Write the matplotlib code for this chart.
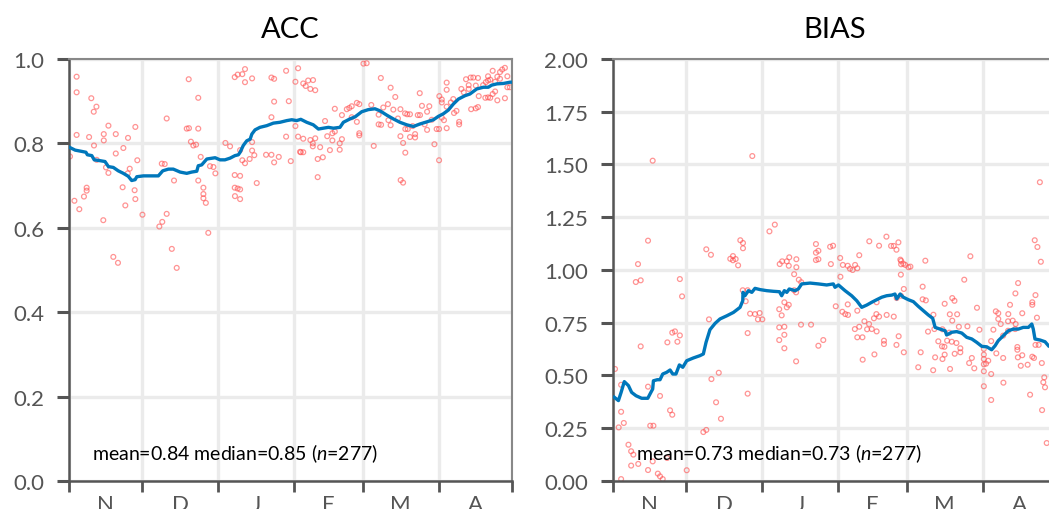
import matplotlib
matplotlib.use("Agg")
import matplotlib.pyplot as plt

plt.rcParams['font.family'] = ['Lato', 'DejaVu Sans']
plt.rcParams['mathtext.fontset'] = 'custom'
plt.rcParams['mathtext.rm'] = 'Lato'
plt.rcParams['mathtext.it'] = 'Lato:italic'

# x axis: days since 1 Nov
months = ['N', 'D', 'J', 'F', 'M', 'A']
month_starts = [0, 30, 61, 92, 120, 151, 181]

acc_ticks = [0.0, 0.2, 0.4, 0.6, 0.8, 1.0]
bias_ticks = [0.0, 0.25, 0.5, 0.75, 1.0, 1.25, 1.5, 1.75, 2.0]

acc_stats = 'mean=0.84 median=0.85 ($n$=277)'
bias_stats = 'mean=0.73 median=0.73 ($n$=277)'

# (day, ACC) per run
acc_points = [
    (3.1, 0.958), (3.1, 0.921), (9.1, 0.907), (11.2, 0.887), (10.1, 0.875), (3.1, 0.820),
    (10.2, 0.795), (8.2, 0.815), (14.2, 0.822), (14.2, 0.807), (16.1, 0.842), (19.1, 0.822),
    (24.1, 0.813), (27.1, 0.839), (22.2, 0.789), (19.1, 0.776), (11.3, 0.761), (15.1, 0.743),
    (16.1, 0.730), (24.8, 0.740), (27.9, 0.760), (24.0, 0.729), (0.4, 0.769), (2.2, 0.664),
    (4.2, 0.644), (6.1, 0.674), (7.2, 0.695), (7.2, 0.688), (14.0, 0.618), (21.9, 0.696),
    (23.0, 0.653), (26.8, 0.689), (27.1, 0.668), (30.0, 0.631), (18.1, 0.531), (20.0, 0.517),
    (39.9, 0.859), (48.9, 0.952), (52.8, 0.908), (48.1, 0.835), (49.0, 0.836), (52.8, 0.835),
    (49.8, 0.804), (50.8, 0.795), (51.9, 0.797), (53.8, 0.768), (37.9, 0.752), (39.1, 0.751),
    (42.9, 0.712), (52.8, 0.712), (54.9, 0.695), (54.9, 0.680), (54.9, 0.670), (55.9, 0.659),
    (57.6, 0.746), (59.0, 0.744), (59.8, 0.729), (39.9, 0.633), (38.1, 0.614), (36.9, 0.603),
    (56.9, 0.588), (42.0, 0.550), (44.0, 0.505),
    (67.7, 0.957), (68.9, 0.963), (70.8, 0.964), (71.9, 0.976), (71.9, 0.945), (74.8, 0.954),
    (63.9, 0.801), (65.8, 0.793), (69.9, 0.784), (70.8, 0.760), (71.9, 0.753), (73.8, 0.763),
    (74.8, 0.803), (74.8, 0.783), (75.7, 0.772), (76.7, 0.706), (67.7, 0.725), (69.9, 0.723),
    (67.7, 0.695), (68.9, 0.693), (69.9, 0.691), (67.8, 0.675), (69.9, 0.668),
    (82.7, 0.956), (83.8, 0.953), (83.8, 0.899), (89.8, 0.900), (88.7, 0.972), (82.7, 0.862),
    (80.5, 0.773), (82.7, 0.773), (85.7, 0.768), (83.8, 0.755), (88.7, 0.816), (92.5, 0.841),
    (90.6, 0.758), (92.5, 0.946), (93.6, 0.978), (93.6, 0.816), (94.4, 0.780),
    (95.7, 0.942), (96.7, 0.936), (97.7, 0.949), (99.7, 0.950), (98.6, 0.929), (100.6, 0.926),
    (95.7, 0.811), (94.7, 0.779), (95.7, 0.779), (98.6, 0.808), (99.6, 0.800), (99.6, 0.793),
    (100.6, 0.812), (101.6, 0.763), (103.7, 0.767), (101.6, 0.720), (102.6, 0.791), (104.6, 0.853),
    (106.6, 0.784), (105.5, 0.817), (107.6, 0.824), (107.6, 0.807), (108.6, 0.882), (108.6, 0.828),
    (110.6, 0.800), (110.6, 0.785), (111.5, 0.810), (111.5, 0.867), (113.5, 0.881), (114.5, 0.884),
    (115.5, 0.888), (115.5, 0.862), (117.6, 0.896), (118.6, 0.893), (117.6, 0.851), (118.6, 0.824),
    (118.6, 0.819),
    (120.3, 0.989), (121.6, 0.990), (123.5, 0.891), (124.5, 0.794), (127.4, 0.955), (126.5, 0.868),
    (126.5, 0.845), (127.5, 0.844), (128.4, 0.885), (130.3, 0.893), (131.4, 0.932), (130.5, 0.855),
    (131.4, 0.843), (132.5, 0.880), (133.3, 0.910), (134.4, 0.859), (135.4, 0.881), (135.4, 0.817),
    (136.5, 0.801), (137.4, 0.778), (135.5, 0.713), (136.5, 0.707), (137.3, 0.871), (138.2, 0.869),
    (139.3, 0.869), (137.4, 0.834), (138.4, 0.834), (139.3, 0.815), (140.4, 0.841), (141.4, 0.822),
    (141.4, 0.814), (143.3, 0.919), (142.5, 0.867), (143.4, 0.867), (144.2, 0.889), (145.3, 0.845),
    (146.3, 0.875), (146.3, 0.832), (147.2, 0.888), (148.2, 0.856), (149.3, 0.798), (150.2, 0.834),
    (151.2, 0.834), (151.2, 0.760),
    (151.3, 0.912), (152.3, 0.904), (152.3, 0.897), (153.2, 0.855), (152.3, 0.861), (154.3, 0.944),
    (154.3, 0.927), (154.3, 0.887), (154.3, 0.836), (156.0, 0.897), (157.0, 0.905), (157.3, 0.872),
    (158.3, 0.877), (159.4, 0.851), (159.4, 0.845), (160.3, 0.929), (161.3, 0.921), (162.2, 0.952),
    (163.3, 0.938), (163.3, 0.929), (164.1, 0.956), (164.3, 0.881), (165.2, 0.956), (166.2, 0.937),
    (167.1, 0.955), (166.2, 0.883), (167.1, 0.886), (167.4, 0.912), (169.2, 0.938), (170.1, 0.908),
    (171.2, 0.959), (171.2, 0.909), (172.1, 0.951), (172.1, 0.908), (173.1, 0.972), (173.1, 0.917),
    (174.1, 0.923), (175.0, 0.958), (175.0, 0.902), (176.1, 0.969), (176.1, 0.953), (177.0, 0.975),
    (178.1, 0.979), (178.1, 0.907), (179.1, 0.959), (179.1, 0.933), (180.1, 0.933), (171.2, 0.949),
    (170.3, 0.945), (174.1, 0.946),
]

# running mean of ACC
acc_line = [
    (0.1, 0.791), (2.5, 0.784), (5.2, 0.781), (6.9, 0.779), (7.5, 0.773), (9.3, 0.771),
    (10.3, 0.761), (12.7, 0.759), (14.7, 0.757), (16.1, 0.745), (18.1, 0.743), (20.1, 0.735),
    (22.2, 0.729), (24.2, 0.722), (25.6, 0.712), (27.0, 0.714), (27.7, 0.721), (30.4, 0.723),
    (36.5, 0.723), (38.3, 0.735), (40.6, 0.739), (42.6, 0.739), (45.4, 0.732), (48.1, 0.729),
    (50.1, 0.732), (52.2, 0.734), (52.8, 0.747), (54.2, 0.749), (56.3, 0.763), (59.7, 0.766),
    (61.7, 0.761), (63.7, 0.761), (65.8, 0.765), (67.8, 0.771), (69.2, 0.773), (69.9, 0.779),
    (71.2, 0.795), (72.6, 0.806), (74.0, 0.810), (74.7, 0.822), (76.0, 0.832), (78.0, 0.838),
    (80.8, 0.842), (83.5, 0.848), (86.2, 0.850), (89.0, 0.854), (91.0, 0.856), (93.0, 0.854),
    (94.7, 0.857), (97.1, 0.850), (99.8, 0.844), (101.9, 0.834), (103.9, 0.836), (106.0, 0.838),
    (108.0, 0.836), (110.7, 0.838), (112.1, 0.850), (114.8, 0.858), (116.9, 0.863), (119.6, 0.875),
    (122.3, 0.880), (125.0, 0.882), (127.1, 0.877), (129.8, 0.867), (132.5, 0.858), (135.2, 0.850),
    (138.0, 0.844), (140.7, 0.840), (143.4, 0.846), (146.2, 0.851), (148.9, 0.856), (150.9, 0.864),
    (152.9, 0.870), (155.0, 0.879), (157.0, 0.893), (159.1, 0.905), (161.8, 0.913), (163.8, 0.917),
    (166.6, 0.929), (169.3, 0.933), (171.3, 0.933), (172.7, 0.938), (174.8, 0.941), (177.5, 0.942),
    (180.2, 0.945), (181.1, 0.945),
]

# (day, BIAS) per run
bias_points = [
    (16.2, 1.518), (56.9, 1.540), (14.3, 1.139), (10.2, 1.028), (9.3, 0.943), (11.3, 0.951),
    (27.3, 0.957), (28.2, 0.875), (38.1, 1.098), (40.0, 1.072), (47.9, 1.053), (49.0, 1.066),
    (50.1, 1.052), (49.0, 1.046), (51.1, 1.022), (52.0, 1.141), (53.1, 1.128), (53.1, 1.103),
    (63.9, 1.183), (66.1, 1.215), (68.1, 1.028), (69.1, 1.041), (71.0, 1.041), (72.0, 1.060),
    (71.8, 1.020), (74.9, 1.051), (74.9, 1.013), (74.0, 0.980), (75.9, 0.954), (76.9, 0.942),
    (82.9, 1.123), (82.9, 1.082), (83.9, 1.091), (82.9, 1.047), (83.9, 1.051), (53.0, 0.904),
    (55.0, 0.904), (74.0, 0.904), (74.8, 0.894),
    (0.8, 0.531), (3.3, 0.456), (3.3, 0.328), (2.3, 0.254), (4.4, 0.275), (6.3, 0.172),
    (7.4, 0.141), (8.3, 0.125), (7.4, 0.073), (10.3, 0.081), (3.3, 0.009), (11.3, 0.638),
    (14.3, 0.447), (15.2, 0.262), (16.5, 0.262), (16.2, 0.093), (14.3, 0.052), (19.2, 0.403),
    (18.3, 0.035), (19.2, 0.022), (20.3, 0.009), (22.1, 0.109), (23.3, 0.335), (24.2, 0.314),
    (22.2, 0.657), (24.2, 0.703), (25.3, 0.709), (26.3, 0.660), (27.3, 0.690), (30.1, 0.051),
    (36.9, 0.232), (38.1, 0.242), (39.2, 0.766), (40.2, 0.483), (42.1, 0.373), (43.2, 0.513),
    (44.1, 0.295), (54.2, 0.852), (55.0, 0.701), (55.0, 0.414), (56.0, 0.793), (58.0, 0.791),
    (59.9, 0.796), (61.0, 0.766), (59.2, 0.766),
    (67.9, 0.814), (68.9, 0.785), (67.9, 0.728), (70.0, 0.731), (67.9, 0.668), (70.0, 0.693),
    (70.0, 0.629), (70.0, 0.847), (71.0, 0.823), (71.8, 0.835), (76.8, 0.741), (80.9, 0.741),
    (83.9, 0.641), (85.9, 0.668), (74.8, 0.567), (89.0, 1.028), (93.9, 1.024), (92.9, 0.968),
    (91.0, 0.828), (93.7, 0.802), (94.9, 0.791), (96.0, 0.787), (95.9, 0.837), (98.8, 0.720),
    (100.6, 0.731), (99.8, 0.681), (101.9, 0.681), (102.7, 0.757), (104.6, 0.744), (103.8, 0.719),
    (105.7, 0.720), (107.7, 0.709), (106.6, 0.771), (107.6, 0.791), (108.7, 0.779), (111.8, 0.787),
    (114.7, 0.779), (110.7, 0.665), (110.7, 0.649), (115.8, 0.645), (116.7, 0.686), (118.8, 0.610),
    (102.0, 0.575), (106.8, 0.600), (99.8, 0.807), (107.7, 0.847), (115.9, 0.867), (117.6, 0.878),
    (118.8, 0.910), (117.4, 1.049), (127.6, 1.044), (119.4, 1.024), (121.5, 1.016), (117.6, 0.978),
    (126.5, 0.921), (126.5, 0.861), (127.8, 0.856),
    (130.9, 0.788), (135.5, 0.840), (138.6, 0.867), (139.5, 0.854), (137.6, 0.790), (140.6, 0.790),
    (128.7, 0.708), (131.3, 0.720), (134.6, 0.719), (138.6, 0.760), (137.4, 0.703), (141.3, 0.731),
    (144.8, 0.733), (143.5, 0.954), (148.7, 0.821), (149.7, 0.717), (132.9, 0.662), (134.4, 0.638),
    (135.4, 0.636), (136.5, 0.665), (138.4, 0.660), (140.3, 0.654), (141.9, 0.629), (141.9, 0.610),
    (139.6, 0.603), (135.5, 0.599), (131.6, 0.586), (134.6, 0.578), (137.7, 0.531), (130.8, 0.525),
    (125.7, 0.610), (124.7, 0.539), (146.6, 0.583), (145.5, 0.559), (147.6, 0.534),
    (151.5, 0.626), (151.5, 0.599), (151.5, 0.578), (152.4, 0.556), (151.5, 0.553), (151.5, 0.520),
    (153.3, 0.570), (154.5, 0.663), (154.5, 0.507), (155.4, 0.717), (156.4, 0.804), (157.4, 0.795),
    (157.4, 0.768), (156.6, 0.605), (159.4, 0.583), (158.4, 0.744), (159.4, 0.689), (161.5, 0.791),
    (162.2, 0.835), (161.4, 0.757), (163.3, 0.760), (164.5, 0.744), (165.5, 0.938), (164.4, 0.889),
    (167.2, 0.795), (171.3, 0.847), (171.3, 0.835), (172.6, 0.881), (173.2, 0.774), (161.4, 0.712),
    (164.3, 0.720), (165.2, 0.635), (165.2, 0.622), (167.2, 0.596), (165.4, 0.586), (166.6, 0.546),
    (169.4, 0.551), (171.3, 0.589), (172.0, 0.583), (172.6, 0.645), (173.9, 0.645), (175.2, 0.559),
    (176.2, 0.491), (175.8, 0.468), (176.5, 0.444), (170.4, 0.409), (159.5, 0.466), (151.5, 0.449),
    (154.5, 0.384), (177.2, 0.180), (174.8, 1.039), (174.4, 1.416), (172.3, 1.141), (173.4, 1.109),
    (175.3, 0.336),
    (88.7, 1.110), (89.9, 1.115), (92.8, 1.057), (95.9, 1.020), (96.8, 1.006), (97.9, 1.000),
    (98.9, 1.024), (99.8, 1.008), (100.6, 1.070), (104.7, 1.136), (108.7, 1.115), (111.7, 1.158),
    (113.6, 1.114), (114.7, 1.114), (115.8, 1.096), (116.6, 1.131), (117.7, 1.043), (117.7, 1.027),
    (118.6, 1.030), (120.7, 1.013), (146.0, 1.065),
]

# running mean of BIAS
bias_line = [
    (0.5, 0.397), (2.2, 0.381), (3.3, 0.420), (4.6, 0.471), (6.3, 0.452), (7.6, 0.420),
    (9.4, 0.404), (11.7, 0.392), (14.2, 0.392), (15.1, 0.412), (16.2, 0.436), (16.5, 0.475),
    (18.1, 0.480), (19.2, 0.480), (20.3, 0.507), (21.9, 0.515), (23.3, 0.526), (24.4, 0.507),
    (25.7, 0.507), (27.1, 0.550), (28.5, 0.539), (30.1, 0.570), (32.8, 0.583), (35.5, 0.594),
    (36.9, 0.602), (38.0, 0.657), (39.6, 0.717), (41.7, 0.747), (43.7, 0.768), (46.5, 0.783),
    (49.2, 0.799), (51.9, 0.823), (53.0, 0.854), (53.1, 0.894), (53.9, 0.878), (55.3, 0.902),
    (56.7, 0.894), (58.0, 0.913), (60.1, 0.907), (62.8, 0.902), (65.5, 0.899), (68.0, 0.897),
    (68.9, 0.878), (70.0, 0.902), (71.0, 0.894), (72.0, 0.910), (74.4, 0.902), (75.7, 0.910),
    (77.1, 0.934), (80.5, 0.938), (83.9, 0.934), (87.3, 0.929), (90.0, 0.934), (90.7, 0.918),
    (92.1, 0.929), (94.8, 0.902), (97.5, 0.878), (99.6, 0.854), (101.6, 0.823), (103.7, 0.834),
    (105.7, 0.847), (107.7, 0.859), (109.8, 0.871), (111.8, 0.878), (113.9, 0.881), (115.2, 0.886),
    (115.9, 0.863), (117.3, 0.886), (118.6, 0.871), (120.7, 0.859), (122.7, 0.850), (124.7, 0.828),
    (126.8, 0.807), (128.8, 0.787), (130.6, 0.771), (131.6, 0.728), (133.6, 0.720), (135.7, 0.712),
    (136.3, 0.692), (138.4, 0.705), (140.4, 0.708), (142.5, 0.701), (144.5, 0.681), (146.6, 0.673),
    (148.6, 0.657), (150.7, 0.638), (152.7, 0.636), (154.7, 0.622), (156.1, 0.641), (157.4, 0.665),
    (159.5, 0.689), (161.5, 0.712), (163.6, 0.720), (165.6, 0.720), (167.6, 0.728), (169.7, 0.728),
    (171.1, 0.744), (171.7, 0.720), (172.4, 0.673), (174.5, 0.668), (176.5, 0.660), (177.9, 0.641),
]

dot_color = '#ff4d4d'
line_color = '#0077bb'
tick_color = '#555555'


def draw_panel(ax, title, points, line, ylim, yticks, fmt, stats):
    px, py = zip(*points)
    lx, ly = zip(*line)
    ax.scatter(px, py, s=12, facecolors='none', edgecolors=dot_color,
               linewidths=0.9, alpha=0.6, zorder=2)
    ax.plot(lx, ly, color=line_color, lw=2.4, zorder=3)

    ax.set_xlim(month_starts[0], month_starts[-1])
    ax.set_ylim(*ylim)
    mids = [(a + b) / 2 for a, b in zip(month_starts[:-1], month_starts[1:])]
    ax.set_xticks(month_starts)
    ax.set_xticklabels([])
    ax.set_xticks(mids, minor=True)
    ax.set_xticklabels(months, minor=True)
    ax.tick_params(axis='x', which='major', length=8, width=2, color=tick_color)
    ax.tick_params(axis='x', which='minor', length=0, pad=9, labelsize=16,
                   labelcolor=tick_color)
    ax.set_yticks(yticks)
    ax.set_yticklabels([fmt.format(v) for v in yticks])
    ax.tick_params(axis='y', length=9, width=2.2, color=tick_color, pad=9,
                   labelsize=16, labelcolor=tick_color)

    ax.grid(True, which='major', color='#ebebeb', lw=2.4)
    ax.set_axisbelow(True)
    for side in ['left', 'bottom']:
        ax.spines[side].set_color(tick_color)
        ax.spines[side].set_linewidth(1.8)
    for side in ['top', 'right']:
        ax.spines[side].set_color('#888888')
        ax.spines[side].set_linewidth(1.5)

    ax.set_title(title, fontsize=21, pad=16)
    ax.text(0.052, 0.052, stats, transform=ax.transAxes, fontsize=14,
            va='baseline', ha='left', color='black')


fig = plt.figure(figsize=(10.49, 5.10), dpi=100)
ax_acc = fig.add_axes([0.0658, 0.0549, 0.4223, 0.8275])
ax_bias = fig.add_axes([0.5844, 0.0549, 0.4223, 0.8275])

draw_panel(ax_acc, 'ACC', acc_points, acc_line, (0, 1.0), acc_ticks, '{:.1f}', acc_stats)
draw_panel(ax_bias, 'BIAS', bias_points, bias_line, (0, 2.0), bias_ticks, '{:.2f}', bias_stats)

fig.savefig('out.png', dpi=100)
